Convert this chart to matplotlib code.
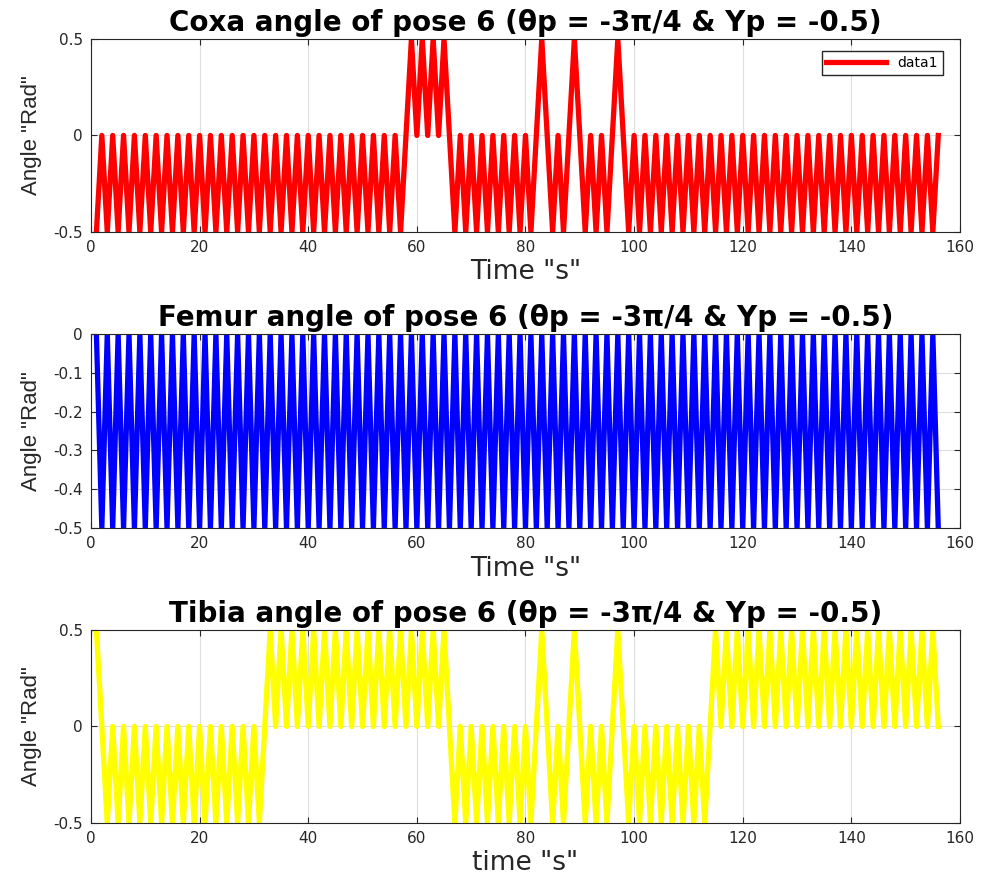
import matplotlib
matplotlib.use("Agg")
import matplotlib.pyplot as plt

plt.rcParams['font.family'] = ['DejaVu Sans']
plt.rcParams['axes.unicode_minus'] = False

# time samples (s)
time = list(range(1, 157))

# coxa angle (rad), one value per time sample
coxa = [
    -0.5, 0, -0.5, 0, -0.5, 0, -0.5, 0, -0.5, 0, -0.5, 0, -0.5, 0, -0.5, 0, -0.5, 0, -0.5, 0,   # 1-20
    -0.5, 0, -0.5, 0, -0.5, 0, -0.5, 0, -0.5, 0, -0.5, 0, -0.5, 0, -0.5, 0, -0.5, 0, -0.5, 0,   # 21-40
    -0.5, 0, -0.5, 0, -0.5, 0, -0.5, 0, -0.5, 0, -0.5, 0, -0.5, 0, -0.5, 0, -0.5,               # 41-57
    0, 0.5, 0, 0.5, 0, 0.5, 0, 0.5, 0, -0.5,                                                    # 58-67
    0, -0.5, 0, -0.5, 0, -0.5, 0, -0.5, 0, -0.5, 0, -0.5, 0, -0.5,                              # 68-81
    0, 0.5, 0, -0.5, 0, -0.5, 0, 0.5, 0, -0.5, 0, -0.5, 0, -0.5, 0, 0.5, 0, -0.5,               # 82-99
    0, -0.5, 0, -0.5, 0, -0.5, 0, -0.5, 0, -0.5, 0, -0.5, 0, -0.5, 0, -0.5, 0, -0.5, 0, -0.5,   # 100-119
    0, -0.5, 0, -0.5, 0, -0.5, 0, -0.5, 0, -0.5, 0, -0.5, 0, -0.5, 0, -0.5, 0, -0.5, 0, -0.5,   # 120-139
    0, -0.5, 0, -0.5, 0, -0.5, 0, -0.5, 0, -0.5, 0, -0.5, 0, -0.5, 0, -0.5, 0,                  # 140-156
]

# femur angle (rad)
femur = [
    0, -0.5, 0, -0.5, 0, -0.5, 0, -0.5, 0, -0.5, 0, -0.5, 0, -0.5, 0, -0.5, 0, -0.5, 0, -0.5,   # 1-20
    0, -0.5, 0, -0.5, 0, -0.5, 0, -0.5, 0, -0.5, 0, -0.5, 0, -0.5, 0, -0.5, 0, -0.5, 0, -0.5,   # 21-40
    0, -0.5, 0, -0.5, 0, -0.5, 0, -0.5, 0, -0.5, 0, -0.5, 0, -0.5, 0, -0.5, 0, -0.5, 0, -0.5,   # 41-60
    0, -0.5, 0, -0.5, 0, -0.5, 0, -0.5, 0, -0.5, 0, -0.5, 0, -0.5, 0, -0.5, 0, -0.5, 0, -0.5,   # 61-80
    0, -0.5, 0, -0.5, 0, -0.5, 0, -0.5, 0, -0.5, 0, -0.5, 0, -0.5, 0, -0.5, 0, -0.5, 0, -0.5,   # 81-100
    0, -0.5, 0, -0.5, 0, -0.5, 0, -0.5, 0, -0.5, 0, -0.5, 0, -0.5, 0, -0.5, 0, -0.5, 0, -0.5,   # 101-120
    0, -0.5, 0, -0.5, 0, -0.5, 0, -0.5, 0, -0.5, 0, -0.5, 0, -0.5, 0, -0.5, 0, -0.5, 0, -0.5,   # 121-140
    0, -0.5, 0, -0.5, 0, -0.5, 0, -0.5, 0, -0.5, 0, -0.5, 0, -0.5, 0, -0.5,                     # 141-156
]

# tibia angle (rad)
tibia = [
    0.5, 0, -0.5,                                                                               # 1-3
    0, -0.5, 0, -0.5, 0, -0.5, 0, -0.5, 0, -0.5, 0, -0.5, 0, -0.5,                              # 4-17
    0, -0.5, 0, -0.5, 0, -0.5, 0, -0.5, 0, -0.5, 0, -0.5, 0, -0.5,                              # 18-31
    0, 0.5, 0, 0.5, 0, 0.5, 0, 0.5, 0, 0.5, 0, 0.5, 0, 0.5, 0, 0.5, 0, 0.5,                     # 32-49
    0, 0.5, 0, 0.5, 0, 0.5, 0, 0.5, 0, 0.5, 0, 0.5, 0, 0.5, 0, 0.5, 0, -0.5,                    # 50-67
    0, -0.5, 0, -0.5, 0, -0.5, 0, -0.5, 0, -0.5, 0, -0.5, 0, -0.5,                              # 68-81
    0, 0.5, 0, -0.5, 0, -0.5, 0, 0.5, 0, -0.5, 0, -0.5, 0, -0.5, 0, 0.5, 0, -0.5,               # 82-99
    0, -0.5, 0, -0.5, 0, -0.5, 0, -0.5, 0, -0.5, 0, -0.5, 0, -0.5,                              # 100-113
    0, 0.5, 0, 0.5, 0, 0.5, 0, 0.5, 0, 0.5, 0, 0.5, 0, 0.5, 0, 0.5, 0, 0.5, 0, 0.5,             # 114-133
    0, 0.5, 0, 0.5, 0, 0.5, 0, 0.5, 0, 0.5, 0, 0.5, 0, 0.5, 0, 0.5, 0, 0.5, 0, 0.5,             # 134-153
    0, 0.5, 0,                                                                                  # 154-156
]

titles = [
    "Coxa angle of pose 6 (\u03b8p = -3\u03c0/4 & Yp = -0.5)",
    "Femur angle of pose 6 (\u03b8p = -3\u03c0/4 & Yp = -0.5)",
    "Tibia angle of pose 6 (\u03b8p = -3\u03c0/4 & Yp = -0.5)",
]
xlabels = ['Time "s"', 'Time "s"', 'time "s"']
yticks = [[-0.5, 0, 0.5], [-0.5, -0.4, -0.3, -0.2, -0.1, 0], [-0.5, 0, 0.5]]
ylims = [(-0.5, 0.5), (-0.5, 0), (-0.5, 0.5)]
colors = ['#ff0000', '#0000ff', '#ffff00']
series = [coxa, femur, tibia]

fig = plt.figure(figsize=(9.91, 8.83), dpi=100)
boxes = [
    [0.0918, 0.7373, 0.8769, 0.2186],
    [0.0918, 0.4020, 0.8769, 0.2197],
    [0.0918, 0.0680, 0.8769, 0.2186],
]

for i in range(3):
    ax = fig.add_axes(boxes[i])
    ax.plot(time, series[i], color=colors[i], lw=3.8, label='data1', solid_joinstyle='round')
    ax.set_xlim(0, 160)
    ax.set_ylim(*ylims[i])
    ax.set_xticks(range(0, 161, 20))
    ax.set_yticks(yticks[i])
    ax.set_yticklabels([('%g' % v) for v in yticks[i]])
    ax.grid(True, color='#dedede', lw=0.8)
    ax.set_axisbelow(True)
    ax.tick_params(direction='in', top=True, right=True, labelsize=11,
                   colors='#262626', length=4, pad=6)
    for s in ax.spines.values():
        s.set_color('#262626')
        s.set_linewidth(0.8)
    ax.set_title(titles[i], fontsize=20, fontweight='bold', pad=6)
    ax.set_xlabel(xlabels[i], fontsize=19, color='#262626', labelpad=3)
    ax.set_ylabel('Angle "Rad"', fontsize=16, color='#262626', labelpad=8,
                  family='Liberation Sans')
    if i == 0:
        ax.legend(loc='upper right', fontsize=10, handlelength=4.3, fancybox=False,
                  edgecolor='#262626', framealpha=1, borderpad=0.35,
                  borderaxespad=0, bbox_to_anchor=(0.980, 0.938))

fig.savefig('out.png', dpi=100)
